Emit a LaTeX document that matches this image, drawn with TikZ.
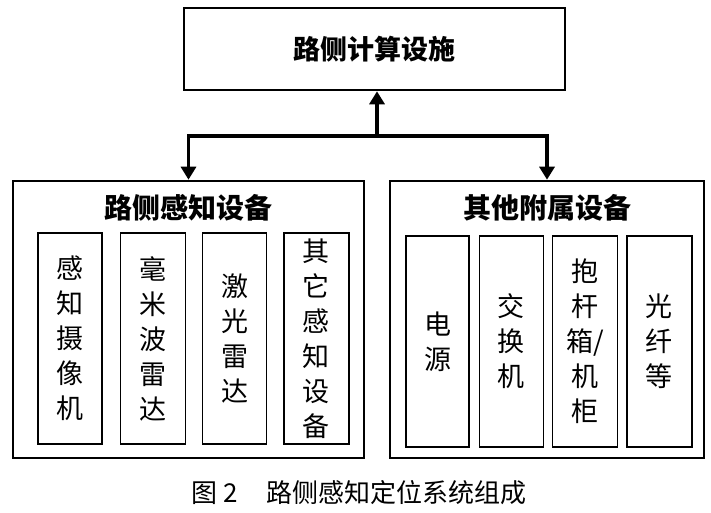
\documentclass[tikz,border=0pt]{standalone}
\usepackage{fontspec}
\newfontfamily\cjk{Noto Sans CJK SC}
\usepackage{tikz}
\usetikzlibrary{positioning,arrows.meta}
\tikzset{
  topbox/.style={draw, line width=2.6pt, minimum width=381pt, minimum height=82pt,
                 font=\cjk\bfseries\fontsize{27}{30}\selectfont},
  outerbox/.style={draw, line width=2.6pt, minimum height=277pt},
  boxtitle/.style={font=\cjk\bfseries\fontsize{28}{30}\selectfont, inner sep=0pt},
  partbox/.style={draw, line width=1.3pt, minimum height=211pt, align=center,
                  inner sep=0pt, font=\cjk\fontsize{27}{35}\selectfont},
  flow/.style={line width=3.5pt, -{Triangle[length=13pt, width=15pt]}},
  caption/.style={font=\cjk\fontsize{26}{30}\selectfont},
}
\begin{document}
\begin{tikzpicture}[x=1pt, y=-1pt]
  \useasboundingbox (0,0) rectangle (711,513);
  % top level
  \node[topbox] (calc) at (374.5,49) {路侧计算设施};
  \coordinate (split) at (377,136);

  % left group
  \node[outerbox, minimum width=351pt] (sense) at (188.5,319.5) {};
  \node[boxtitle, below=14pt of sense.north] (senseT) {路侧感知设备};
  \node[partbox, minimum width=64pt] (cam) at (70,338.5) {感\\知\\摄\\像\\机};
  \node[partbox, minimum width=65pt, right=17pt of cam] (radar) {毫\\米\\波\\雷\\达};
  \node[partbox, minimum width=64pt, right=16pt of radar] (lidar) {激\\光\\雷\\达};
  \node[partbox, minimum width=65pt, right=16pt of lidar] (osense) {其\\它\\感\\知\\设\\备};

  % right group
  \node[outerbox, minimum width=314pt] (other) at (547,319.5) {};
  \node[boxtitle, below=14pt of other.north] (otherT) {其他附属设备};
  \node[partbox, minimum width=63pt] (power) at (437.5,341.5) {电\\源};
  \node[partbox, minimum width=64pt, right=9pt of power] (switch) {交\\换\\机};
  \node[partbox, minimum width=65pt, right=8pt of switch] (cabinet) {抱\\杆\\箱/\\机\\柜};
  \node[partbox, minimum width=65pt, right=8pt of cabinet] (fiber) {光\\纤\\等};

  % connectors
  \draw[flow] (split) -- (split |- calc.south);
  \draw[flow] (split) -| (sense.north);
  \draw[flow] (split) -| (other.north);

  \node[caption] (cap) at (359,493) {图 2\hspace{1.1em}路侧感知定位系统组成};
\end{tikzpicture}
\end{document}
